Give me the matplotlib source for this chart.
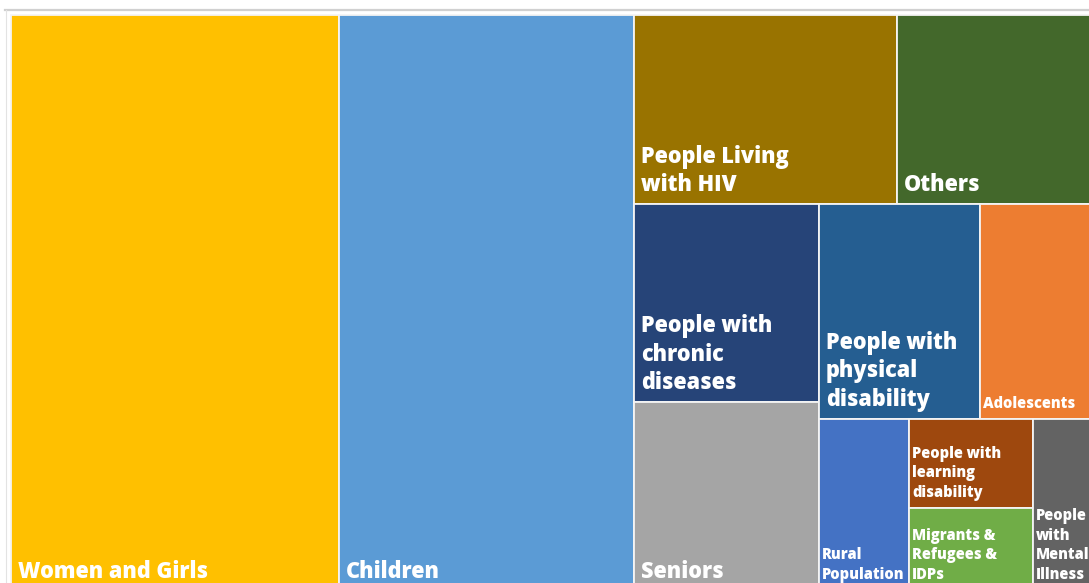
import matplotlib
matplotlib.use("Agg")
import matplotlib.pyplot as plt
from matplotlib.patches import Rectangle
from matplotlib.lines import Line2D

# Share of target groups (%)
categories = [
    "Women and Girls", "Children", "People Living\nwith HIV", "Others",
    "People with\nchronic\ndiseases", "Seniors", "People with\nphysical\ndisability",
    "Adolescents", "Rural\nPopulation", "People with\nlearning\ndisability",
    "Migrants &\nRefugees &\nIDPs", "People\nwith\nMental\nIllness",
]
shares = [30.34, 27.29, 8.00, 5.93, 5.89, 5.60, 5.57, 3.87, 2.48, 1.78, 1.64, 1.62]
colors = [
    "#FFC000", "#5B9BD5", "#997300", "#43682B", "#264478", "#A5A5A5",
    "#255E91", "#ED7D31", "#4472C4", "#9E480E", "#70AD47", "#636363",
]


def worst_ratio(row, side):
    s = sum(row)
    return max(max(side * side * r / (s * s), (s * s) / (side * side * r)) for r in row)


def squarify(values, x, y, dx, dy):
    """Squarified treemap layout; returns (x, y, w, h) for each value."""
    total = sum(values)
    areas = [v * dx * dy / total for v in values]
    rects = []
    i = 0
    while i < len(areas):
        side = min(dx, dy)
        row = [areas[i]]
        j = i + 1
        while j < len(areas) and worst_ratio(row + [areas[j]], side) <= worst_ratio(row, side):
            row.append(areas[j])
            j += 1
        s = sum(row)
        if dx >= dy:
            w = s / dy
            yy = y
            for a in row:
                h = a / w
                rects.append((x, yy, w, h))
                yy += h
            x += w
            dx -= w
        else:
            h = s / dx
            xx = x
            for a in row:
                w = a / h
                rects.append((xx, y, w, h))
                xx += w
            y += h
            dy -= h
        i = j
    return rects


W_PX, H_PX = 1089, 583
fig = plt.figure(figsize=(W_PX / 100, H_PX / 100), dpi=100)
fig.patch.set_facecolor("white")

# light frame around the chart area
fig.add_artist(Line2D([5 / W_PX, 1], [1 - 10 / H_PX, 1 - 10 / H_PX],
                      transform=fig.transFigure, color="#d0d0d0", lw=1.6))
fig.add_artist(Line2D([5.5 / W_PX, 5.5 / W_PX], [0, 1 - 10 / H_PX],
                      transform=fig.transFigure, color="#e3e3e3", lw=0.8))

# plotting area (extends slightly past the right and bottom edges)
left, top = 11, 15
box_w, box_h = 1081, 575
ax = fig.add_axes([left / W_PX, (H_PX - top - box_h) / H_PX, box_w / W_PX, box_h / H_PX])
ax.set_xlim(0, box_w)
ax.set_ylim(box_h, 0)
ax.axis("off")

rects = squarify(shares, 0, 0, box_w, box_h)
for (x, y, w, h), label, col in zip(rects, categories, colors):
    ax.add_patch(Rectangle((x, y), w, h, facecolor=col, edgecolor="#f4f4f4",
                           lw=1.3, clip_on=False))
    big = min(w, h) >= 120
    padx = 7 if big else 3
    pady = 6.5 if big else 7
    ax.text(x + padx, y + h - pady, label, ha="left", va="bottom",
            color="white", fontsize=15.6 if big else 10.5, fontweight=800,
            family=["Open Sans", "DejaVu Sans"],
            linespacing=1.27 if big else 1.3, clip_on=False)

fig.savefig("out.png", dpi=100)
